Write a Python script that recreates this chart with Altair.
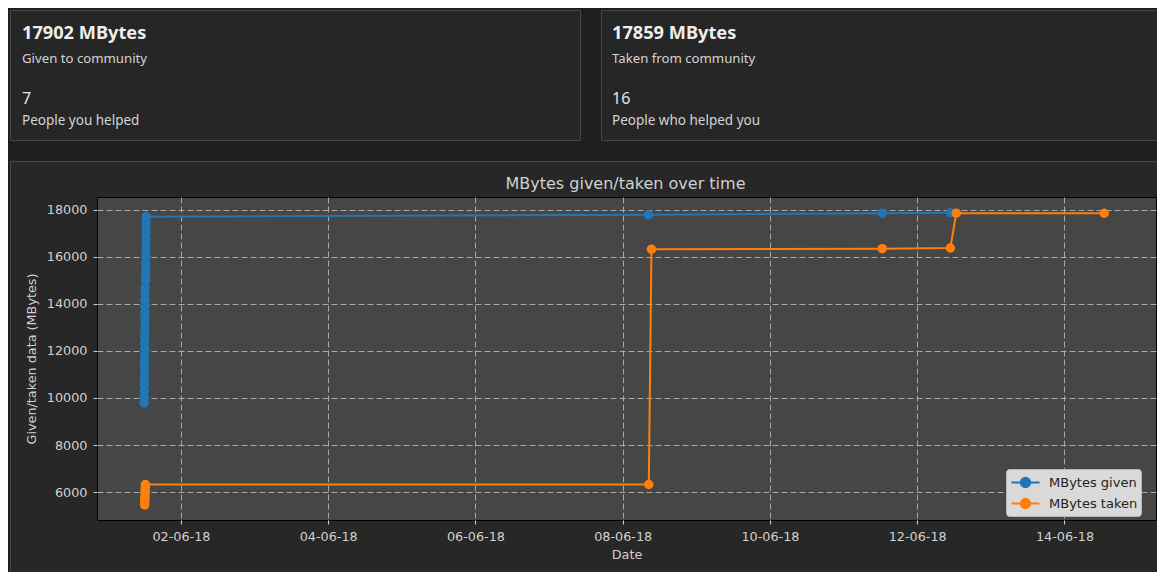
import altair as alt
import pandas as pd

# ---- data ----
given_time = (
    [f"2018-06-01T12:{m:02d}:00Z" for m in range(0, 20)]
    + [f"2018-06-01T12:{m:02d}:00Z" for m in range(30, 42)]
    + ["2018-06-08T08:24:00Z", "2018-06-11T12:36:00Z", "2018-06-12T10:48:00Z"]
)
given_mb = [
    9790, 10040, 10300, 10560, 10810, 11060, 11330, 11590, 11840, 12100,
    12350, 12610, 12870, 13120, 13380, 13640, 13900, 14160, 14420, 14700,
    15000, 15250, 15500, 15750, 16010, 16260, 16510, 16760, 17010, 17260, 17500, 17715,
    17790, 17860, 17880,
]
taken_time = [
    "2018-06-01T12:10:00Z", "2018-06-01T12:12:00Z", "2018-06-01T12:14:00Z", "2018-06-01T12:16:00Z",
    "2018-06-01T12:18:00Z", "2018-06-01T12:20:00Z", "2018-06-01T12:22:00Z", "2018-06-01T12:24:00Z",
    "2018-06-08T08:30:00Z", "2018-06-08T09:22:00Z", "2018-06-11T12:36:00Z", "2018-06-12T10:48:00Z",
    "2018-06-12T12:43:00Z", "2018-06-14T12:57:00Z",
]
taken_mb = [
    5450, 5580, 5700, 5820, 5950, 6080, 6200, 6320,
    6320, 16330, 16350, 16380,
    17860, 17859,
]
series_names = ["MBytes given", "MBytes taken"]
series_colors = ["#1f77b4", "#ff7f0e"]
tick_days = [2, 4, 6, 8, 10, 12, 14]
y_ticks = [6000, 8000, 10000, 12000, 14000, 16000, 18000]

card_big = ["17902 MBytes", "17859 MBytes"]
card_sub = ["Given to community", "Taken from community"]
card_count = ["7", "16"]
card_count_sub = ["People you helped", "People who helped you"]
chart_title = "MBytes given/taken over time"

df = pd.concat([
    pd.DataFrame({"t": given_time, "mb": given_mb, "series": series_names[0]}),
    pd.DataFrame({"t": taken_time, "mb": taken_mb, "series": series_names[1]}),
])

# ---- plot geometry (plot area 1059 x 323) ----
W, H = 1059, 323
FONT = "DejaVu Sans"
UI = "Noto Sans"

legend_symbol = "M-1.5,0L1.5,0M-0.5,0A0.5,0.5,0,1,0,0.5,0A0.5,0.5,0,1,0,-0.5,0Z"

color = alt.Color(
    "series:N",
    scale=alt.Scale(domain=series_names, range=series_colors),
    legend=alt.Legend(
        orient="none", legendX=909, legendY=272, title=None,
        fillColor="#d9d9d9", strokeColor="#b8b8b8", cornerRadius=3, padding=3,
        labelColor="#222222", labelFontSize=13, labelFont=FONT, labelOffset=13,
        symbolType=legend_symbol, symbolSize=350, symbolStrokeWidth=2, rowPadding=1,
        symbolOffset=6,
    ),
)

x_enc = alt.X(
    "t:T",
    title="Date",
    scale=alt.Scale(
        type="utc",
        domain=[alt.DateTime(year=2018, month=5, date=31, hours=20, minutes=38, utc=True),
                alt.DateTime(year=2018, month=6, date=15, hours=5, minutes=50, utc=True)],
    ),
    axis=alt.Axis(
        values=[alt.DateTime(year=2018, month=6, date=d, utc=True) for d in tick_days],
        format="%d-%m-%y", labelPadding=6, titlePadding=6,
    ),
)
y_enc = alt.Y(
    "mb:Q",
    title="Given/taken data (MBytes)",
    scale=alt.Scale(domain=[4810, 18550], nice=False, zero=False),
    axis=alt.Axis(values=y_ticks, format="d", labelPadding=6, titlePadding=8),
)

one = alt.Data(values=[{"k": 1}])


def rect(x, x2, y, y2, fill, stroke=None, opacity=1.0):
    kw = dict(fill=fill, fillOpacity=opacity)
    if stroke:
        kw.update(stroke=stroke, strokeWidth=1)
    return alt.Chart(one).mark_rect(**kw).encode(
        x=alt.value(x), x2=alt.value(x2), y=alt.value(y), y2=alt.value(y2))


def label(txt, x, y, size, weight="normal", col="#dddddd", font=UI, align="left"):
    return alt.Chart(one).mark_text(
        align=align, baseline="middle", font=font, fontSize=size, fontWeight=weight, color=col
    ).encode(x=alt.value(x), y=alt.value(y), text=alt.value(txt))


OUTER = "#1f1f1f"
deco = [
    # darker page background outside the chart panel
    rect(-100, 1100, -200, -36, OUTER),
    rect(-100, -87, -36, 400, OUTER),
    # panel border
    rect(-86.5, 1090, -35.5, 381.5, "#272727", "#474747", opacity=0),
    # cards
    rect(-86.5, 483.5, -186.5, -56.5, "#262626", "#474747"),
    rect(504.5, 1090, -186.5, -56.5, "#262626", "#474747"),
]
texts = []
for i, x0 in enumerate([-75, 515]):
    texts += [
        label(card_big[i], x0, -163, 18.2, "bold", "#eeeeee"),
        label(card_sub[i], x0, -138, 13.2, "normal", "#d4d4d4"),
        label(card_count[i], x0, -98, 16, "normal", "#e4e4e4"),
        label(card_count_sub[i], x0, -76, 13.5, "normal", "#d4d4d4"),
    ]
texts.append(label(chart_title, W / 2 - 1, -13, 16, "normal", "#d0d0d0", FONT, "center"))

lines = alt.Chart(df).mark_line(strokeWidth=2).encode(x=x_enc, y=y_enc, color=color)
points = alt.Chart(df).mark_circle(size=90, opacity=1).encode(x=x_enc, y=y_enc, color=color)

chart = alt.layer(*deco, *texts, lines, points).properties(
    width=W, height=H,
    padding={"left": 89, "top": 189, "right": 1, "bottom": 52},
    autosize="none",
    background="#272727",
).configure_view(
    fill="#464646", stroke="#000000", strokeWidth=1,
).configure_axis(
    domain=False,
    grid=True, gridColor="#b4b4b4", gridDash=[6, 3], gridWidth=1, gridOpacity=0.9,
    tickColor="#d0d0d0", tickSize=4, tickWidth=1,
    labelColor="#d0d0d0", labelFont=FONT, labelFontSize=12.8,
    titleColor="#d0d0d0", titleFont=FONT, titleFontSize=12.8, titleFontWeight="normal",
)

chart.save("out.html", embed_options={"renderer": "svg", "actions": False})
